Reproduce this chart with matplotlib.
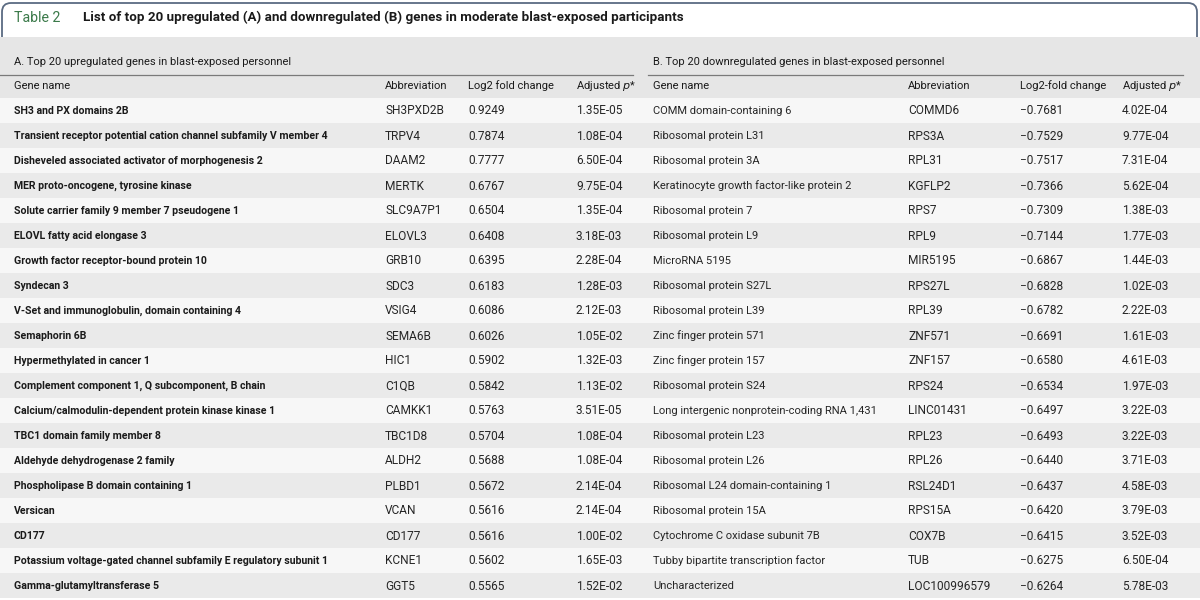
import matplotlib.pyplot as plt
from matplotlib.patches import Rectangle, FancyBboxPatch

plt.rcParams['font.family'] = ['Roboto', 'DejaVu Sans']

# =============================================================================
# Data
# =============================================================================
title_label = 'Table 2'
title_text = 'List of top 20 upregulated (A) and downregulated (B) genes in moderate blast-exposed participants'

up_title = 'A. Top 20 upregulated genes in blast-exposed personnel'
down_title = 'B. Top 20 downregulated genes in blast-exposed personnel'
up_cols = ['Gene name', 'Abbreviation', 'Log2 fold change', 'Adjusted $p$*']
down_cols = ['Gene name', 'Abbreviation', 'Log2-fold change', 'Adjusted $p$*']

up_names = ['SH3 and PX domains 2B',
            'Transient receptor potential cation channel subfamily V member 4',
            'Disheveled associated activator of morphogenesis 2',
            'MER proto-oncogene, tyrosine kinase',
            'Solute carrier family 9 member 7 pseudogene 1',
            'ELOVL fatty acid elongase 3',
            'Growth factor receptor-bound protein 10',
            'Syndecan 3',
            'V-Set and immunoglobulin, domain containing 4',
            'Semaphorin 6B',
            'Hypermethylated in cancer 1',
            'Complement component 1, Q subcomponent, B chain',
            'Calcium/calmodulin-dependent protein kinase kinase 1',
            'TBC1 domain family member 8',
            'Aldehyde dehydrogenase 2 family',
            'Phospholipase B domain containing 1',
            'Versican',
            'CD177',
            'Potassium voltage-gated channel subfamily E regulatory subunit 1',
            'Gamma-glutamyltransferase 5']
up_abbr = ['SH3PXD2B', 'TRPV4', 'DAAM2', 'MERTK', 'SLC9A7P1', 'ELOVL3', 'GRB10',
           'SDC3', 'VSIG4', 'SEMA6B', 'HIC1', 'C1QB', 'CAMKK1', 'TBC1D8', 'ALDH2',
           'PLBD1', 'VCAN', 'CD177', 'KCNE1', 'GGT5']
up_fc = [0.9249, 0.7874, 0.7777, 0.6767, 0.6504, 0.6408, 0.6395, 0.6183, 0.6086,
         0.6026, 0.5902, 0.5842, 0.5763, 0.5704, 0.5688, 0.5672, 0.5616, 0.5616,
         0.5602, 0.5565]
up_p = [1.35e-05, 1.08e-04, 6.50e-04, 9.75e-04, 1.35e-04, 3.18e-03, 2.28e-04,
        1.28e-03, 2.12e-03, 1.05e-02, 1.32e-03, 1.13e-02, 3.51e-05, 1.08e-04,
        1.08e-04, 2.14e-04, 2.14e-04, 1.00e-02, 1.65e-03, 1.52e-02]

down_names = ['COMM domain-containing 6',
              'Ribosomal protein L31',
              'Ribosomal protein 3A',
              'Keratinocyte growth factor-like protein 2',
              'Ribosomal protein 7',
              'Ribosomal protein L9',
              'MicroRNA 5195',
              'Ribosomal protein S27L',
              'Ribosomal protein L39',
              'Zinc finger protein 571',
              'Zinc finger protein 157',
              'Ribosomal protein S24',
              'Long intergenic nonprotein-coding RNA 1,431',
              'Ribosomal protein L23',
              'Ribosomal protein L26',
              'Ribosomal L24 domain-containing 1',
              'Ribosomal protein 15A',
              'Cytochrome C oxidase subunit 7B',
              'Tubby bipartite transcription factor',
              'Uncharacterized']
down_abbr = ['COMMD6', 'RPS3A', 'RPL31', 'KGFLP2', 'RPS7', 'RPL9', 'MIR5195',
             'RPS27L', 'RPL39', 'ZNF571', 'ZNF157', 'RPS24', 'LINC01431', 'RPL23',
             'RPL26', 'RSL24D1', 'RPS15A', 'COX7B', 'TUB', 'LOC100996579']
down_fc = [-0.7681, -0.7529, -0.7517, -0.7366, -0.7309, -0.7144, -0.6867, -0.6828,
           -0.6782, -0.6691, -0.6580, -0.6534, -0.6497, -0.6493, -0.6440, -0.6437,
           -0.6420, -0.6415, -0.6275, -0.6264]
down_p = [4.02e-04, 9.77e-04, 7.31e-04, 5.62e-04, 1.38e-03, 1.77e-03, 1.44e-03,
          1.02e-03, 2.22e-03, 1.61e-03, 4.61e-03, 1.97e-03, 3.22e-03, 3.22e-03,
          3.71e-03, 4.58e-03, 3.79e-03, 3.52e-03, 6.50e-04, 5.78e-03]

# =============================================================================
# Layout (pixel units)
# =============================================================================
up_x = [14, 385, 468, 576]
down_x = [653, 908, 1020, 1122]
row_y0 = 98
row_h = 25
fs = 8.0
fs_b = 7.6
fs_num = 8.6
txt = '#1a1a1a'
txt2 = '#262626'

fig = plt.figure(figsize=(12, 6), dpi=100)
ax = fig.add_axes([0, 0, 1, 1])
ax.set_xlim(0, 1200)
ax.set_ylim(600, 0)
ax.axis('off')

# title box
ax.add_patch(FancyBboxPatch((2, 3), 1195, 80, boxstyle='round,pad=0,rounding_size=9',
                            facecolor='white', edgecolor='#5b6b82', linewidth=1.3))
ax.add_patch(Rectangle((0, 37), 1200, row_y0 - 37, facecolor='#e6e6e6', edgecolor='none'))
ax.text(14, 17.5, title_label, color='#3b7a4a', fontsize=10.2, va='center')
ax.text(83, 17.5, title_text, color=txt, fontsize=9.6, va='center', fontweight='bold')

# section headers
ax.text(up_x[0], 62, up_title, color=txt, fontsize=fs, va='center')
ax.text(down_x[0], 62, down_title, color=txt, fontsize=fs, va='center')
ax.plot([0, 633], [74.5, 74.5], color='#7a7a7a', lw=0.9)
ax.plot([648, 1183], [74.5, 74.5], color='#7a7a7a', lw=0.9)
for x, c in zip(up_x, up_cols):
    ax.text(x, 86, c, color=txt, fontsize=fs, va='center')
for x, c in zip(down_x, down_cols):
    ax.text(x, 86, c, color=txt, fontsize=fs, va='center')

# rows
for i in range(len(up_names)):
    y = row_y0 + i * row_h
    ax.add_patch(Rectangle((0, y), 1200, row_h,
                           facecolor='#f7f7f7' if i % 2 == 0 else '#eaeaea',
                           edgecolor='none'))
    yc = y + row_h / 2 + 0.5
    ax.text(up_x[0], yc, up_names[i], color=txt, fontsize=fs_b, va='center', fontweight='bold')
    ax.text(up_x[1], yc, up_abbr[i], color=txt2, fontsize=fs_num, va='center')
    ax.text(up_x[2], yc, '{:.4f}'.format(up_fc[i]), color=txt2, fontsize=fs_num, va='center')
    ax.text(up_x[3], yc, '{:.2E}'.format(up_p[i]), color=txt2, fontsize=fs_num, va='center')
    ax.text(down_x[0], yc, down_names[i], color=txt2, fontsize=fs, va='center')
    ax.text(down_x[1], yc, down_abbr[i], color=txt2, fontsize=fs_num, va='center')
    ax.text(down_x[2], yc, '{:.4f}'.format(down_fc[i]).replace('-', '\u2212'),
            color=txt2, fontsize=fs_num, va='center')
    ax.text(down_x[3], yc, '{:.2E}'.format(down_p[i]), color=txt2, fontsize=fs_num, va='center')

fig.savefig('out.png', dpi=100)
